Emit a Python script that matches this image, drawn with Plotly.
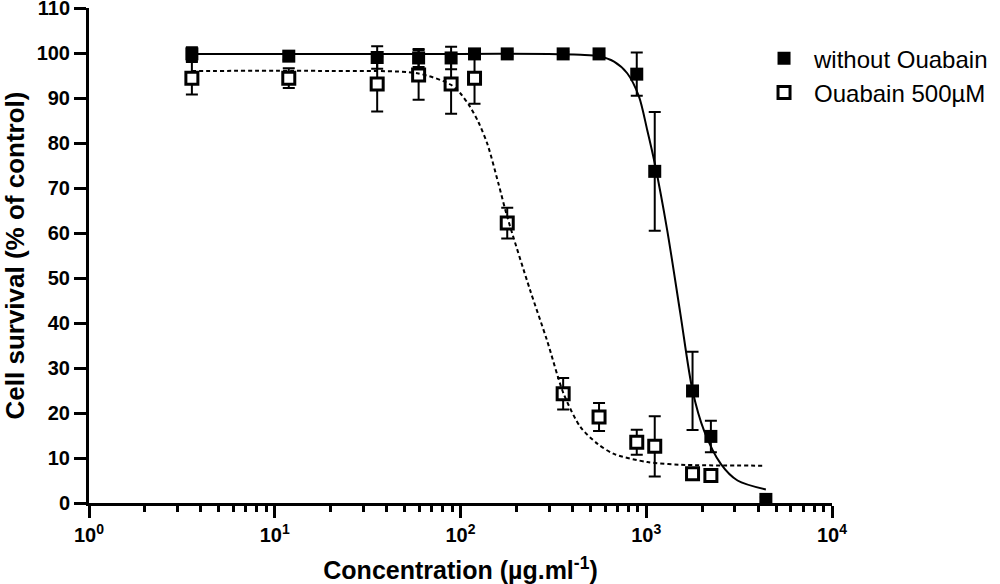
import plotly.graph_objects as go

# concentrations (ug/ml)
conc = [3.58, 11.9, 35.6, 59.5, 89, 119, 178.5, 357, 557, 889, 1111, 1775, 2228, 4406]
conc_oua = conc[:-1]

# cell survival (% of control), mean and error
surv_ctrl = [99.8, 99.3, 99.0, 98.9, 98.9, 99.8, 99.8, 99.8, 99.8, 95.3, 73.7, 24.9, 14.8, 0.8]
err_ctrl = [1.5, 0.8, 2.5, 2.0, 2.5, 1.0, 0.5, 0.5, 0.5, 4.8, 13.2, 8.7, 3.5, 0.5]

surv_oua = [94.4, 94.4, 93.1, 95.1, 93.1, 94.4, 62.2, 24.3, 19.1, 13.5, 12.6, 6.5, 6.1]
err_oua = [3.6, 2.2, 6.1, 5.5, 6.6, 5.7, 3.4, 3.5, 3.1, 2.8, 6.7, 0.6, 0.6]

# fitted curves
fit_x_ctrl = [3.58, 20, 100, 300, 443, 557, 671, 790, 914, 1012, 1111, 1297, 1526, 1775, 2047, 2520, 3100, 4406]
fit_y_ctrl = [99.8, 99.8, 99.8, 99.8, 99.6, 99.3, 98.1, 95.5, 90.3, 82.9, 75.5, 60.6, 42.1, 25.0, 16.1, 8.7, 5.0, 3.0]

fit_x_oua = [3.58, 20, 58.5, 88.3, 100, 112.8, 125, 140, 160, 178.5, 237, 292, 359, 442, 545, 670, 1015, 1535, 4300]
fit_y_oua = [96.0, 96.0, 95.5, 93.0, 91.0, 88.0, 84.6, 79.6, 71.0, 63.6, 47.3, 36.2, 24.3, 16.9, 13.2, 10.9, 9.1, 8.5, 8.3]

x_ticks = [1, 10, 100, 1000, 10000]
x_ticktext = ['10<sup>0</sup>', '10<sup>1</sup>', '10<sup>2</sup>', '10<sup>3</sup>', '10<sup>4</sup>']
y_ticks = list(range(0, 111, 10))

FONT = 'Liberation Sans, Arial, sans-serif'

fig = go.Figure()

# open squares (with ouabain)
fig.add_trace(go.Scatter(
    x=conc_oua, y=surv_oua, mode='markers', name='Ouabain 500µM',
    marker=dict(symbol='square', size=12, color='white', line=dict(color='black', width=3)),
    error_y=dict(type='data', array=err_oua, color='black', thickness=2, width=6),
    legendrank=2, cliponaxis=False))

fig.add_trace(go.Scatter(
    x=fit_x_oua, y=fit_y_oua, mode='lines', showlegend=False,
    line=dict(color='black', width=2, dash='4px,3px', shape='spline', smoothing=0.8)))

fig.add_trace(go.Scatter(
    x=fit_x_ctrl, y=fit_y_ctrl, mode='lines', showlegend=False,
    line=dict(color='black', width=2, shape='spline', smoothing=0.8)))

# filled squares (without ouabain)
fig.add_trace(go.Scatter(
    x=conc, y=surv_ctrl, mode='markers', name='without Ouabain',
    marker=dict(symbol='square', size=13, color='black'),
    error_y=dict(type='data', array=err_ctrl, color='black', thickness=2, width=6),
    legendrank=1, cliponaxis=False))

minor_vals = [m * 10 ** e for e in range(4) for m in range(2, 10)]

# plot area stops at 10^4, the legend sits in the paper space to its right
fig.update_xaxes(
    type='log', range=[0, 4], domain=[0, 743 / 911],
    showgrid=False, zeroline=False, automargin=False,
    showline=True, linecolor='black', linewidth=3,
    ticks='outside', ticklen=12, tickwidth=3, tickcolor='black',
    tickvals=x_ticks, ticktext=x_ticktext, ticklabeloverflow='allow',
    tickfont=dict(family=FONT, size=20, color='black', weight='bold'),
    minor=dict(tickmode='array', tickvals=minor_vals, ticks='outside', ticklen=6,
               tickwidth=2.5, tickcolor='black', showgrid=False),
    title=dict(text='Concentration (µg.ml<sup>-1</sup>)', standoff=20,
               font=dict(family=FONT, size=25, color='black', weight='bold')))

fig.update_yaxes(
    range=[0, 110], showgrid=False, zeroline=False, automargin=False,
    showline=True, linecolor='black', linewidth=3,
    ticks='outside', ticklen=12, tickwidth=3, tickcolor='black',
    tickvals=y_ticks, ticklabeloverflow='allow',
    tickfont=dict(family=FONT, size=20, color='black', weight='bold'),
    title=dict(text='Cell survival (% of control)', standoff=8,
               font=dict(family=FONT, size=26, color='black', weight='bold')))

fig.update_layout(
    width=1000, height=584,
    margin=dict(l=89, r=0, t=8, b=81),
    plot_bgcolor='white', paper_bgcolor='white',
    legend=dict(x=0.73, y=0.943, xanchor='left', yanchor='top',
                font=dict(family=FONT, size=24, color='black'),
                bgcolor='rgba(0,0,0,0)', itemwidth=50, tracegroupgap=0),
)

fig.write_html("out.html", config={'displayModeBar': False},
               post_script="document.body.style.margin='0px';document.body.style.overflow='hidden';")
